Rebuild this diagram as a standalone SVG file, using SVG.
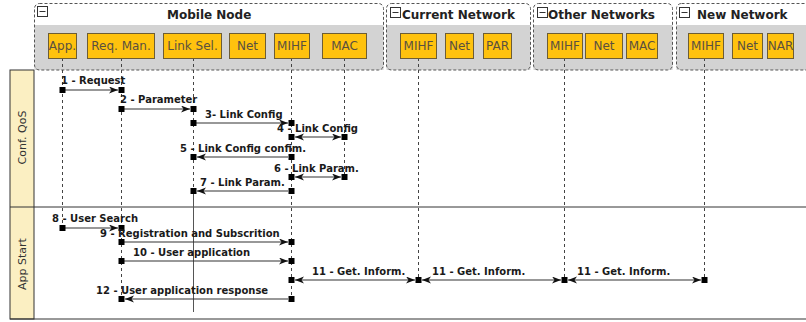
<svg xmlns="http://www.w3.org/2000/svg" width="806" height="322" viewBox="0 0 806 322">
<style>
.grpbg{fill:#d3d3d3;stroke:none}
.grp{fill:none;stroke:#555;stroke-width:1;stroke-dasharray:3,2}
.ttl{font-family:"DejaVu Sans",sans-serif;font-size:12px;font-weight:bold;fill:#222}
.ico{fill:#fff;stroke:#333;stroke-width:1}
.box{fill:#ffc20e;stroke:#6d5d35;stroke-width:1}
.bl{font-family:"DejaVu Sans",sans-serif;font-size:12px;fill:#5a5040;text-anchor:middle}
.life{stroke:#444;stroke-width:1;stroke-dasharray:3,3;fill:none}
.lane{fill:#fbefc2;stroke:#333;stroke-width:1}
.ll{stroke:#333;stroke-width:1;fill:none}
.lt{font-family:"DejaVu Sans",sans-serif;font-size:11px;fill:#333;text-anchor:middle}
.msg{stroke:#333;stroke-width:1.1;fill:none;marker-end:url(#arr)}
.bi{marker-start:url(#arr)}
.mt{font-family:"DejaVu Sans",sans-serif;font-size:10px;font-weight:bold;fill:#1a1a1a}
.sq{fill:#000}
</style>
<defs>
<marker id="arr" markerUnits="userSpaceOnUse" markerWidth="10" markerHeight="8" refX="9" refY="3.5" orient="auto-start-reverse">
<path d="M0,0 L9,3.5 L0,7 L2.5,3.5 z" fill="#111"/>
</marker>
</defs>
<rect width="806" height="322" fill="#fff"/>

<g id="lanes">
<rect class="lane" x="10" y="70" width="24" height="249"/>
<line class="ll" x1="10" y1="207" x2="806" y2="207"/>
<line class="ll" x1="10" y1="319" x2="806" y2="319"/>
<text class="lt" transform="translate(26,137.5) rotate(-90)">Conf. QoS</text>
<text class="lt" transform="translate(26,264) rotate(-90)">App Start</text>
</g>

<g id="group-mobile">
<rect class="grpbg" x="34.5" y="25" width="349" height="45"/>
<rect class="grp" x="34.5" y="3.5" width="349" height="66.5" rx="5"/>
<rect class="ico" x="37.5" y="6.5" width="10" height="10"/>
<line x1="39.5" y1="11.5" x2="45.5" y2="11.5" stroke="#333"/>
<text class="ttl" x="167" y="18.5">Mobile Node</text>
</g>
<g id="group-current">
<rect class="grpbg" x="386.5" y="25" width="144" height="45"/>
<rect class="grp" x="386.5" y="3.5" width="144" height="66.5" rx="5"/>
<rect class="ico" x="390.5" y="7.5" width="10" height="10"/>
<line x1="392.5" y1="12.5" x2="398.5" y2="12.5" stroke="#333"/>
<text class="ttl" x="402" y="18.5">Current Network</text>
</g>
<g id="group-other">
<rect class="grpbg" x="533.5" y="25" width="139" height="45"/>
<rect class="grp" x="533.5" y="3.5" width="139" height="66.5" rx="5"/>
<rect class="ico" x="537.5" y="7.5" width="10" height="10"/>
<line x1="539.5" y1="12.5" x2="545.5" y2="12.5" stroke="#333"/>
<text class="ttl" x="548" y="18.5">Other Networks</text>
</g>
<g id="group-new">
<rect class="grpbg" x="676.5" y="25" width="140" height="45"/>
<rect class="grp" x="676.5" y="3.5" width="140" height="66.5" rx="5"/>
<rect class="ico" x="679.5" y="7.5" width="10" height="10"/>
<line x1="681.5" y1="12.5" x2="687.5" y2="12.5" stroke="#333"/>
<text class="ttl" x="697" y="18.5">New Network</text>
</g>

<g id="lifelines">
<line class="life" x1="62.5" y1="58" x2="62.5" y2="231"/>
<line class="life" x1="121.5" y1="58" x2="121.5" y2="302"/>
<line class="life" x1="193.5" y1="58" x2="193.5" y2="191"/>
<line x1="193.5" y1="191" x2="193.5" y2="312" stroke="#555" stroke-width="1"/>
<line class="life" x1="291.5" y1="58" x2="291.5" y2="302"/>
<line class="life" x1="344.5" y1="58" x2="344.5" y2="178"/>
<line class="life" x1="418.5" y1="58" x2="418.5" y2="280"/>
<line class="life" x1="564.5" y1="58" x2="564.5" y2="280"/>
<line class="life" x1="704.5" y1="58" x2="704.5" y2="280"/>
</g>

<g id="node-app"><rect class="box" x="48.5" y="33.5" width="28" height="25"/><text class="bl" x="62.5" y="50">App.</text></g>
<g id="node-reqman"><rect class="box" x="87.5" y="33.5" width="67" height="25"/><text class="bl" x="121" y="50">Req. Man.</text></g>
<g id="node-linksel"><rect class="box" x="163.5" y="33.5" width="58" height="25"/><text class="bl" x="192.5" y="50">Link Sel.</text></g>
<g id="node-net1"><rect class="box" x="229.5" y="33.5" width="36" height="25"/><text class="bl" x="247.5" y="50">Net</text></g>
<g id="node-mihf1"><rect class="box" x="274.5" y="33.5" width="35" height="25"/><text class="bl" x="292" y="50">MIHF</text></g>
<g id="node-mac1"><rect class="box" x="322.5" y="33.5" width="44" height="25"/><text class="bl" x="344.5" y="50">MAC</text></g>
<g id="node-mihf2"><rect class="box" x="400.5" y="33.5" width="36" height="25"/><text class="bl" x="418.5" y="50">MIHF</text></g>
<g id="node-net2"><rect class="box" x="445.5" y="33.5" width="28" height="25"/><text class="bl" x="459.5" y="50">Net</text></g>
<g id="node-par"><rect class="box" x="483.5" y="33.5" width="28" height="25"/><text class="bl" x="497.5" y="50">PAR</text></g>
<g id="node-mihf3"><rect class="box" x="547.5" y="33.5" width="35" height="25"/><text class="bl" x="565" y="50">MIHF</text></g>
<g id="node-net3"><rect class="box" x="585.5" y="33.5" width="37" height="25"/><text class="bl" x="604" y="50">Net</text></g>
<g id="node-mac3"><rect class="box" x="626.5" y="33.5" width="31" height="25"/><text class="bl" x="642" y="50">MAC</text></g>
<g id="node-mihf4"><rect class="box" x="688.5" y="33.5" width="35" height="25"/><text class="bl" x="706" y="50">MIHF</text></g>
<g id="node-net4"><rect class="box" x="732.5" y="33.5" width="30" height="25"/><text class="bl" x="747.5" y="50">Net</text></g>
<g id="node-nar"><rect class="box" x="767.5" y="33.5" width="26" height="25"/><text class="bl" x="780.5" y="50">NAR</text></g>

<g id="connectors">
<line class="msg" x1="65" y1="90" x2="118" y2="90"/>
<line class="msg" x1="124" y1="109" x2="190" y2="109"/>
<line class="msg" x1="196" y1="123" x2="288" y2="123"/>
<line class="msg bi" x1="295" y1="137" x2="341" y2="137"/>
<line class="msg" x1="288" y1="157" x2="197" y2="157"/>
<line class="msg bi" x1="295" y1="177" x2="341" y2="177"/>
<line class="msg" x1="288" y1="191" x2="197" y2="191"/>
<line class="msg" x1="65" y1="228" x2="118" y2="228"/>
<line class="msg" x1="124" y1="242" x2="288" y2="242"/>
<line class="msg" x1="124" y1="261" x2="288" y2="261"/>
<line class="msg bi" x1="295" y1="280" x2="415" y2="280"/>
<line class="msg bi" x1="422" y1="280" x2="561" y2="280"/>
<line class="msg bi" x1="568" y1="280" x2="701" y2="280"/>
<line class="msg" x1="288" y1="299" x2="125" y2="299"/>
<g class="sq">
<rect x="59.5" y="87" width="6" height="6"/><rect x="118.5" y="87" width="6" height="6"/>
<rect x="118.5" y="106" width="6" height="6"/><rect x="190.5" y="106" width="6" height="6"/>
<rect x="190.5" y="120" width="6" height="6"/><rect x="288.5" y="120" width="6" height="6"/>
<rect x="288.5" y="134" width="6" height="6"/><rect x="341.5" y="134" width="6" height="6"/>
<rect x="288.5" y="154" width="6" height="6"/><rect x="190.5" y="154" width="6" height="6"/>
<rect x="288.5" y="174" width="6" height="6"/><rect x="341.5" y="174" width="6" height="6"/>
<rect x="288.5" y="188" width="6" height="6"/><rect x="190.5" y="188" width="6" height="6"/>
<rect x="59.5" y="225" width="6" height="6"/><rect x="118.5" y="225" width="6" height="6"/>
<rect x="118.5" y="239" width="6" height="6"/><rect x="288.5" y="239" width="6" height="6"/>
<rect x="118.5" y="258" width="6" height="6"/><rect x="288.5" y="258" width="6" height="6"/>
<rect x="288.5" y="277" width="6" height="6"/><rect x="415.5" y="277" width="6" height="6"/>
<rect x="561.5" y="277" width="6" height="6"/><rect x="701.5" y="277" width="6" height="6"/>
<rect x="288.5" y="296" width="6" height="6"/><rect x="118.5" y="296" width="6" height="6"/>
</g>
<text class="mt" x="61" y="84">1 - Request</text>
<text class="mt" x="120" y="103">2 - Parameter</text>
<text class="mt" x="205" y="118">3- Link Config</text>
<text class="mt" x="277" y="132">4 - Link Config</text>
<text class="mt" x="180" y="152">5 - Link Config confim.</text>
<text class="mt" x="274" y="172">6 - Link Param.</text>
<text class="mt" x="200" y="186">7 - Link Param.</text>
<text class="mt" x="52" y="222">8 - User Search</text>
<text class="mt" x="100" y="237">9 - Registration and Subscrition</text>
<text class="mt" x="133" y="256">10 - User application</text>
<text class="mt" x="312" y="275">11 - Get. Inform.</text>
<text class="mt" x="432" y="275">11 - Get. Inform.</text>
<text class="mt" x="577" y="275">11 - Get. Inform.</text>
<text class="mt" x="96" y="294">12 - User application response</text>
</g>
</svg>
